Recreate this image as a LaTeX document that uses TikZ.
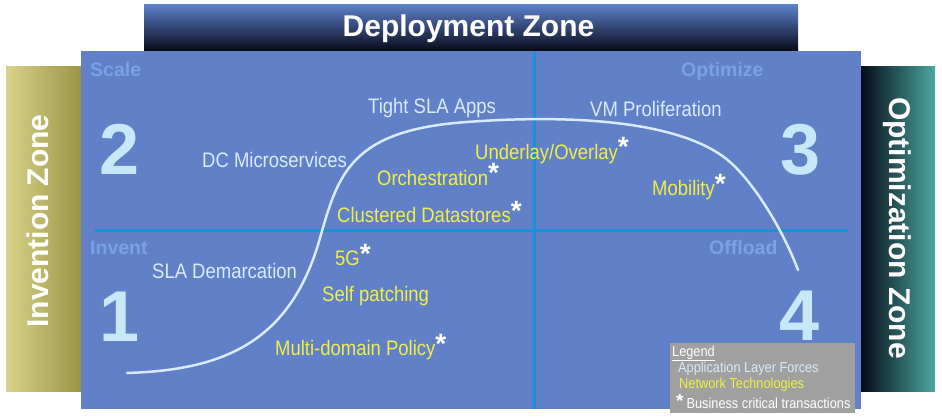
\documentclass[tikz,border=0pt]{standalone}
\usepackage{fontspec}
\setmainfont{Liberation Sans}
\newfontfamily\narrowsans[FakeStretch=0.88]{Liberation Sans}
\definecolor{panelblue}{RGB}{98,128,200}
\definecolor{gridblue}{RGB}{25,145,215}
\definecolor{fadedblue}{RGB}{122,160,232}
\definecolor{numblue}{RGB}{200,232,250}
\definecolor{applight}{RGB}{215,235,250}
\definecolor{netyellow}{RGB}{238,240,70}
\definecolor{khakilight}{RGB}{216,211,138}
\definecolor{khakidark}{RGB}{156,148,68}
\definecolor{tealzone}{RGB}{75,168,160}
\definecolor{navyzone}{RGB}{6,10,24}
\definecolor{bannerblue}{RGB}{92,126,200}
\definecolor{legendgray}{RGB}{160,160,160}
\newcommand{\critmark}{\raisebox{2pt}{\rmfamily\bfseries\fontsize{28}{28}\selectfont\textcolor{white}{*}}}
\begin{document}
\begin{tikzpicture}[x=1pt,y=-1pt,
    apptext/.style={text=applight,font=\narrowsans\fontsize{21}{21}\selectfont,anchor=base west,inner sep=0pt},
    nettext/.style={apptext,text=netyellow},
    quadlabel/.style={text=fadedblue,font=\bfseries\fontsize{19.5}{19.5}\selectfont,anchor=base west,inner sep=0pt},
    bignum/.style={text=numblue,font=\bfseries\fontsize{72}{72}\selectfont,anchor=base,inner sep=0pt},
    zonetitle/.style={text=white,font=\bfseries\fontsize{30}{30}\selectfont,anchor=base,inner sep=0pt},
    legendtext/.style={font=\narrowsans\fontsize{14.5}{14.5}\selectfont,anchor=base west,inner sep=0pt}]
  \useasboundingbox (0,0) rectangle (942,417);
  % zones
  \fill[left color=khakilight,right color=khakidark] (6,67) rectangle (81,391);
  \fill[left color=navyzone,right color=tealzone] (861,67) rectangle (935,391);
  \fill[top color=bannerblue,bottom color=navyzone] (144,5) rectangle (798,51);
  \fill[panelblue] (81,51) rectangle (861,409);
  \node[zonetitle] (deploy) at (468.5,37) {Deployment Zone};
  \node[zonetitle,rotate=90] (invention) at (48,221) {Invention Zone};
  \node[zonetitle,rotate=-90] (optimization) at (889,228) {Optimization Zone};
  % quadrants
  \draw[gridblue,line width=3] (534,51) -- (534,409);
  \draw[gridblue,line width=3] (95,230) -- (848,230);
  \node[quadlabel] (scale) at (90,77) {Scale};
  \node[quadlabel] (optimize) at (681,77) {Optimize};
  \node[quadlabel] (invent) at (90,254) {Invent};
  \node[quadlabel] (offload) at (709,254) {Offload};
  \node[bignum] (two) at (120,175) {2};
  \node[bignum] (three) at (801,175) {3};
  \node[bignum] (one) at (120,341) {1};
  \node[bignum] (four) at (800,340) {4};
  % adoption curve
  \draw[applight,line width=2.5,line cap=round]
    (127,373) .. controls (220,370) and (290,345) .. (320,238)
    .. controls (338,175) and (350,130) .. (467,122)
    .. controls (560,115) and (680,118) .. (730,162)
    .. controls (757,186) and (785,235) .. (798,270);
  % application layer forces
  \node[apptext] (tight) at (368,114) {Tight SLA Apps};
  \node[apptext] (vmprolif) at (590,117) {VM Proliferation};
  \node[apptext] (dcmicro) at (202,167) {DC Microservices};
  \node[apptext] (slademarc) at (152,278) {SLA Demarcation};
  % network technologies
  \node[nettext] (underlay) at (475,159) {Underlay/Overlay\critmark};
  \node[nettext] (orch) at (377,185) {Orchestration\critmark};
  \node[nettext] (clustered) at (337,222) {Clustered Datastores\critmark};
  \node[nettext] (mobility) at (652,195) {Mobility\critmark};
  \node[nettext] (fiveg) at (335,265) {5G\critmark};
  \node[nettext] (selfpatch) at (322,301) {Self patching};
  \node[nettext] (multidom) at (275,355) {Multi-domain Policy\critmark};
  % legend
  \fill[legendgray] (670,343) rectangle (855,413);
  \node[legendtext,text=white] (legend) at (672,356) {\underline{Legend}};
  \node[legendtext,text=applight] (legapp) at (678,372) {Application Layer Forces};
  \node[legendtext,text=netyellow] (legnet) at (679,388) {Network Technologies};
  \node[legendtext,text=white] (legcrit) at (676,408)
    {\raisebox{1pt}{\rmfamily\bfseries\fontsize{19}{19}\selectfont*}\hspace{3pt}Business critical transactions};
\end{tikzpicture}
\end{document}
